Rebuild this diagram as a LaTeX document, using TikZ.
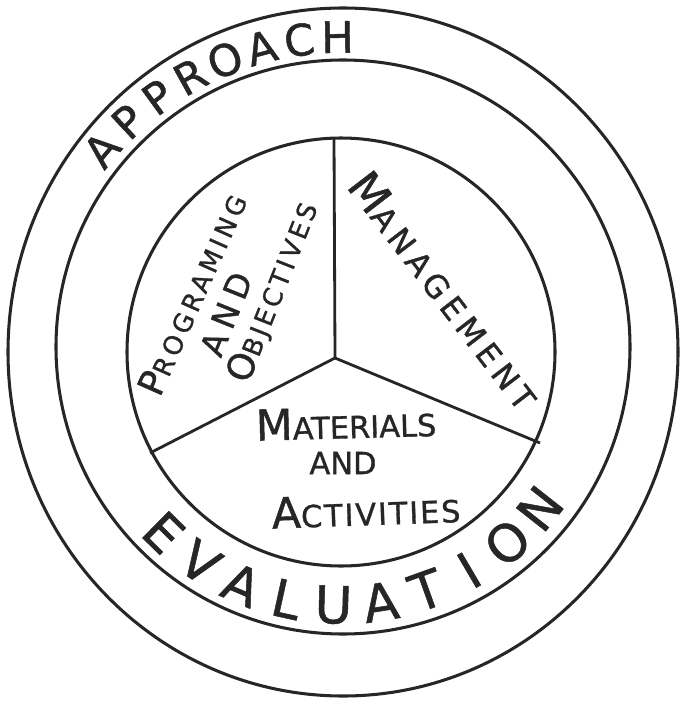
\documentclass[tikz,border=0pt]{standalone}
\usepackage{fontspec}
\usepackage{graphicx}
\newfontfamily\handfont[FakeBold=1]{DejaVu Sans}
\usetikzlibrary{calc}
\newcommand{\capinit}[2]{\scalebox{1.4}{#1}#2}
\tikzset{
    ring/.style={line width=2.6pt, draw=black!85},
    spoke/.style={line width=2.4pt, draw=black!85},
    rimletter/.style={inner sep=0pt, text=black!85, font=\handfont\fontsize{37}{40}\selectfont},
    baseletter/.style={inner sep=0pt, text=black!85, font=\handfont\fontsize{44}{48}\selectfont},
    sector/.style={inner sep=0pt, text=black!85}
}
\begin{document}
\begin{tikzpicture}[x=0.03cm, y=-0.03cm]
    \useasboundingbox (0,0) rectangle (681,705);

    % Rings
    \draw[ring] (343,352) ellipse (335 and 344);
    \draw[ring] (343,347) circle (287);
    \draw[ring] (341,352) circle (214);

    % Spokes
    \coordinate (hub) at (335,358);
    \coordinate (top) at (334,138);
    \coordinate (left) at (150,453);
    \coordinate (right) at (540,443);
    \draw[spoke] (hub) -- (top);
    \draw[spoke] (hub) -- (left);
    \draw[spoke] (hub) -- (right);

    % Outer band: APPROACH
    \foreach \ch [count=\i from 0] in {A,P,P,R,O,A,C,H} {
        \pgfmathsetmacro{\ang}{140-7*\i}
        \node[rimletter, rotate=\ang-90] (ap\i) at ({343+315*cos(\ang)}, {352-315*sin(\ang)}) {\ch};
    }

    % Lower band: EVALUATION
    \foreach \ch [count=\i from 0] in {E,V,A,L,U,A,T,I,O,N} {
        \pgfmathsetmacro{\ang}{225.5+10.7*\i}
        \node[baseletter, rotate=\ang+90] (ev\i) at ({341+253*cos(\ang)}, {352-253*sin(\ang)}) {\ch};
    }

    % Sectors
    \node[sector, rotate=66, font={\handfont\fontsize{22}{26}\selectfont\addfontfeature{LetterSpace=16}}] (prog) at (192,294) {\capinit{P}{ROGRAMING}};
    \node[sector, rotate=68, font={\handfont\fontsize{28}{30}\selectfont\addfontfeature{LetterSpace=22}}] (andprog) at (226,314) {AND};
    \node[sector, rotate=68.5, font={\handfont\fontsize{22}{26}\selectfont\addfontfeature{LetterSpace=14}}] (obj) at (273,292) {\capinit{O}{BJECTIVES}};

    \node[sector, rotate=-52.5, font={\handfont\fontsize{27}{30}\selectfont\addfontfeature{LetterSpace=18}}] (mgmt) at (445,290) {\capinit{M}{ANAGEMENT}};

    \node[sector, rotate=1.5, font={\handfont\fontsize{26}{30}\selectfont}] (mat) at (346,423) {\capinit{M}{ATERIALS}};
    \node[sector, font={\handfont\fontsize{26}{30}\selectfont}] (andmat) at (343,463) {AND};
    \node[sector, rotate=2, font={\handfont\fontsize{26}{30}\selectfont\addfontfeature{LetterSpace=6}}] (act) at (366,510) {\capinit{A}{CTIVITIES}};
\end{tikzpicture}
\end{document}
